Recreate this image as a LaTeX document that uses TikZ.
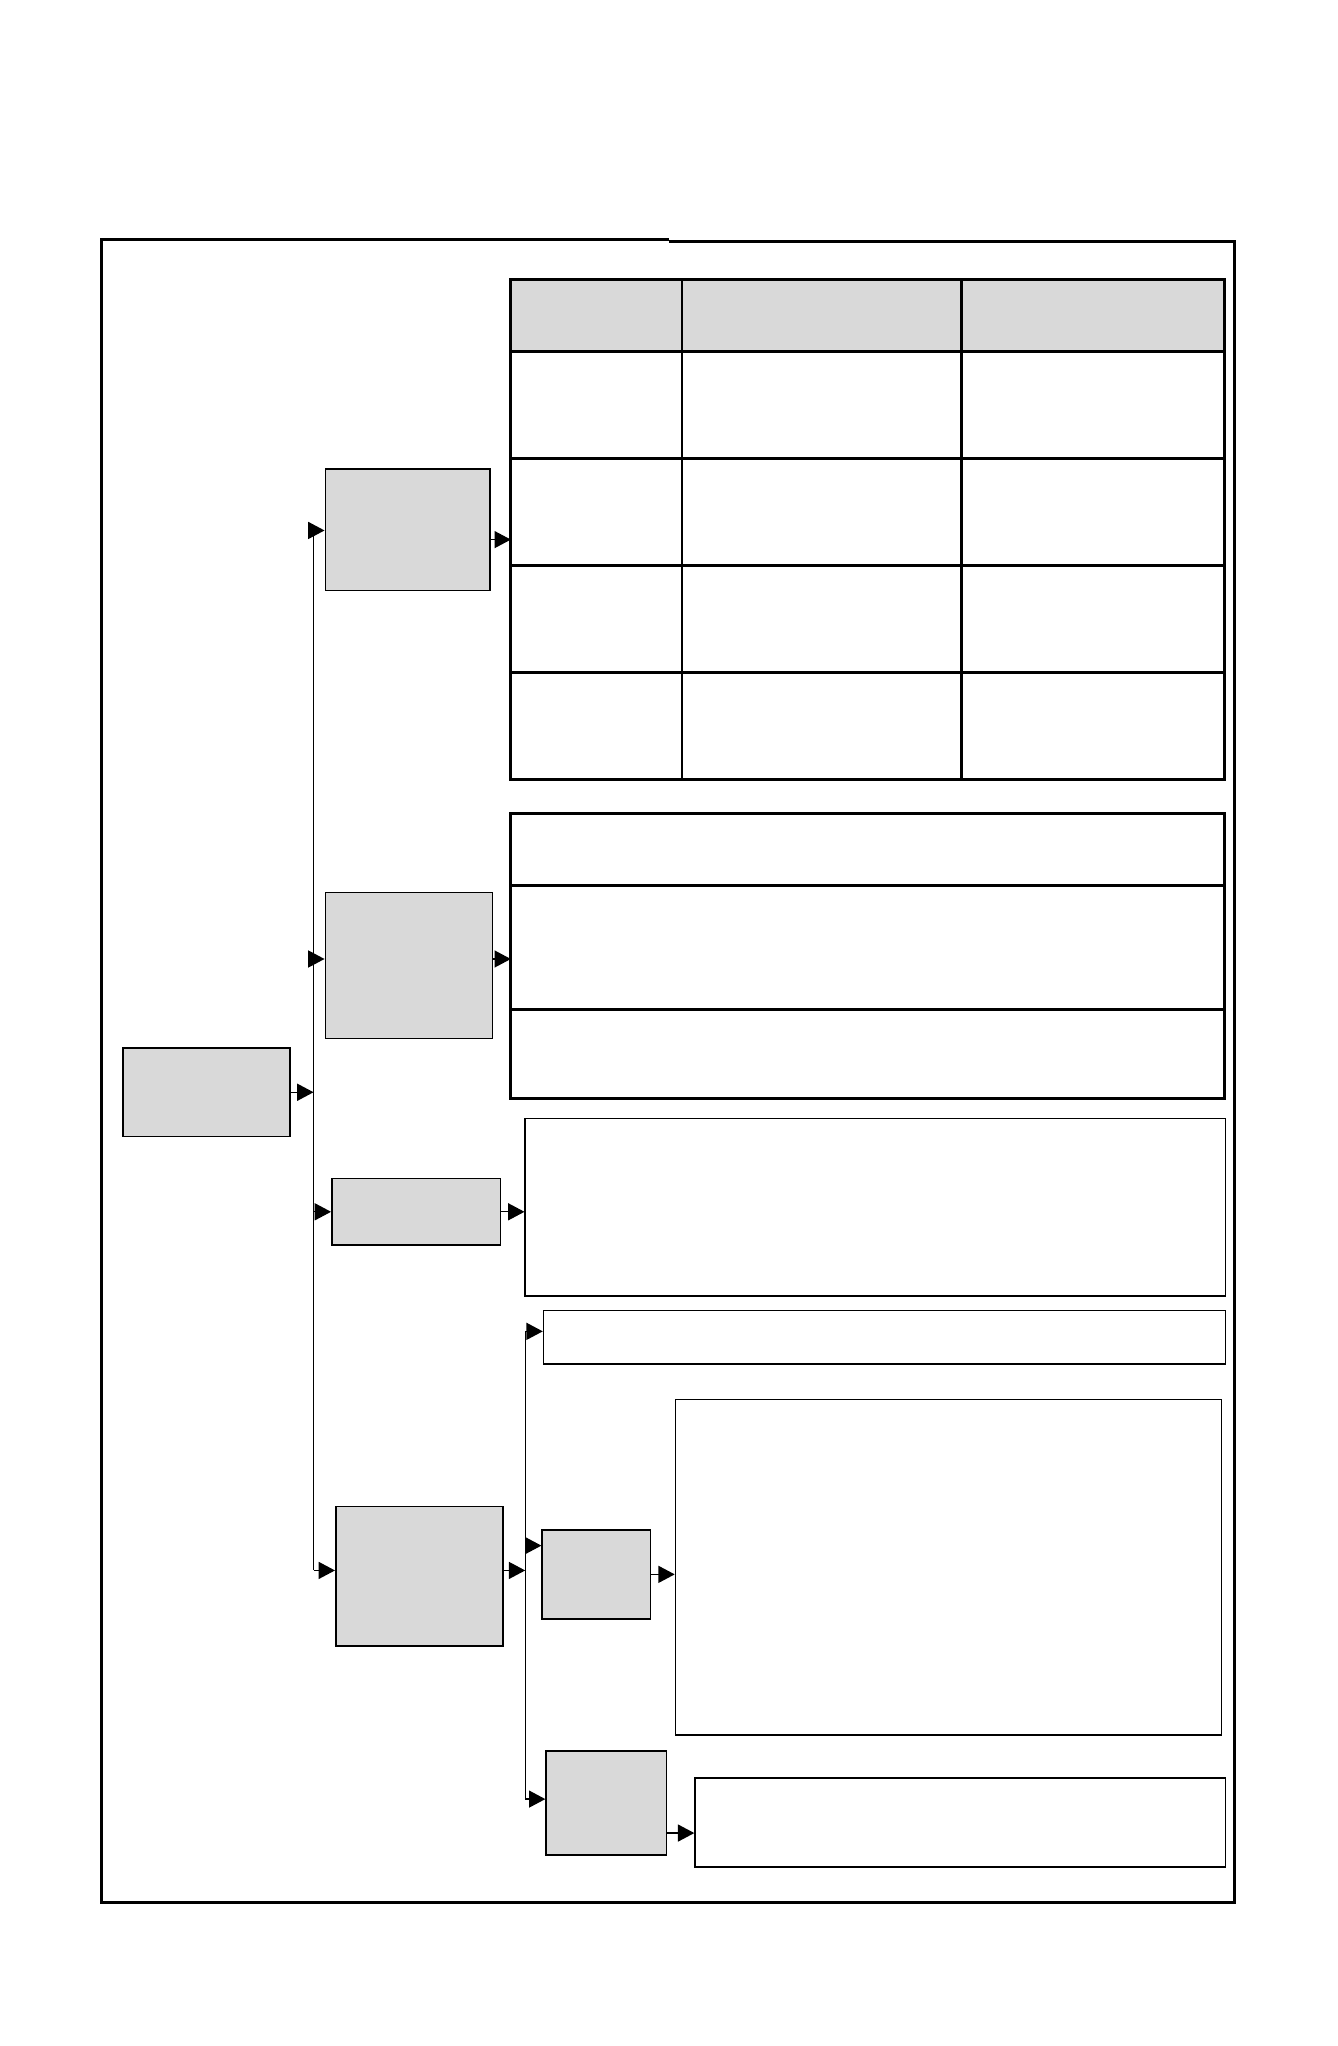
\documentclass[tikz,border=0pt]{standalone}
\usepackage{tikz}
\usetikzlibrary{arrows.meta,calc}
\definecolor{boxgray}{HTML}{D9D9D9}
\begin{document}
\begin{tikzpicture}[x=0.02cm,y=-0.02cm,
		gbox/.style={draw,fill=boxgray,line width=0.7pt,inner sep=0pt},
		wbox/.style={draw,line width=0.7pt,inner sep=0pt},
		arr/.style={-{Triangle[length=0.25cm,width=0.26cm]},line width=0.6pt},
		tab/.style={line width=1.3pt}]
		\useasboundingbox (0,0) rectangle (1024,1566);
		% frame
		\draw[tab] (512,183)--(78,183)--(78,1456)--(945,1456)--(945,184.5)--(512,184.5);
		% table 1
		\fill[boxgray] (391,214) rectangle (937,269);
		\draw[tab] (391,214) rectangle (937,596.5);
		\draw[tab] (391,269)--(937,269);
		\draw[tab] (391,351)--(937,351);
		\draw[tab] (391,433)--(937,433);
		\draw[tab] (391,515)--(937,515);
		\draw[tab] (522,214)--(522,596.5);
		\draw[tab] (736,214)--(736,596.5);
		\coordinate (T1) at (391,413);
		% table 2
		\draw[tab] (391,622.5) rectangle (937,841);
		\draw[tab] (391,677.5)--(937,677.5);
		\draw[tab] (391,773)--(937,773);
		\coordinate (T2) at (391,734);
		% boxes
		\node[gbox,minimum width=2.56cm,minimum height=1.36cm] (root) at (158,836) {};
		\node[gbox,minimum width=2.52cm,minimum height=1.86cm] (A) at (312,405.5) {};
		\node[gbox,minimum width=2.56cm,minimum height=2.24cm] (B) at (313,739) {};
		\node[gbox,minimum width=2.58cm,minimum height=1.02cm] (C) at (318.5,927.5) {};
		\node[gbox,minimum width=2.56cm,minimum height=2.14cm] (D) at (321,1206.5) {};
		\node[gbox,minimum width=1.66cm,minimum height=1.36cm] (E) at (456.5,1205) {};
		\node[gbox,minimum width=1.84cm,minimum height=1.6cm] (F) at (464,1380) {};
		\node[wbox,minimum width=10.72cm,minimum height=2.72cm] (W1) at (670,924) {};
		\node[wbox,minimum width=10.44cm,minimum height=0.82cm] (W2) at (677,1023.5) {};
		\node[wbox,minimum width=8.36cm,minimum height=5.14cm] (W3) at (726,1199.5) {};
		\node[wbox,minimum width=8.12cm,minimum height=1.36cm] (W4) at (735,1395) {};
		% connectors
		\coordinate (ta) at (240,406);
		\coordinate (tb) at (240,1202);
		\coordinate (tB) at (240,734);
		\coordinate (tc) at (402,1019);
		\coordinate (td) at (402,1377);
		\coordinate (te) at (402,1183);
		\coordinate (tf) at (0,1403);
		\draw[line width=0.6pt] (ta)--(tb);
		\draw[arr] (root.east)--(root.east -| ta);
		\draw[arr] (ta)--(ta -| A.west);
		\draw[arr] (tB)--(tB -| B.west);
		\draw[arr] (ta |- C.west)--(C.west);
		\draw[arr] (tb)--(tb -| D.west);
		\draw[arr] (A.east |- T1)--(T1);
		\draw[arr] (tB -| B.east)--(T2);
		\draw[arr] (C.east)--(C.east -| W1.west);
		\draw[line width=0.6pt] (tc)--(td);
		\draw[arr] (tb -| D.east)--(tb -| tc);
		\draw[arr] (tc)--(tc -| W2.west);
		\draw[arr] (te)--(te -| E.west);
		\draw[arr] (td)--(td -| F.west);
		\draw[arr] (E.east)--(E.east -| W3.west);
		\draw[arr] (F.east |- tf)--(W4.west |- tf);
	\end{tikzpicture}
\end{document}
